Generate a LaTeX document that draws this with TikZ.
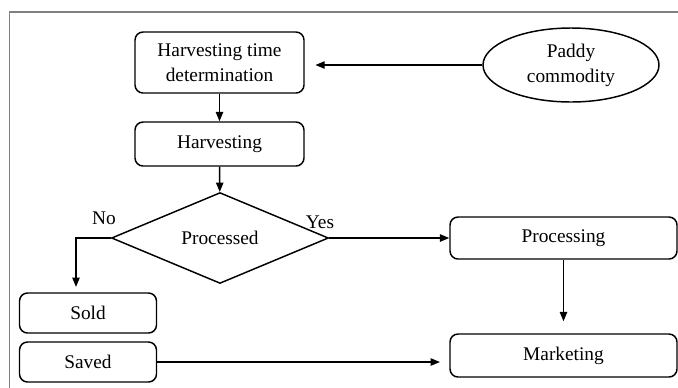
\documentclass[tikz,border=0pt]{standalone}
\usepackage{fontspec}
\setmainfont{Liberation Serif}
\usetikzlibrary{shapes.geometric,arrows.meta}

\begin{document}
\begin{tikzpicture}
	[x=0.75pt, y=-0.75pt,
	box/.style = {draw, rounded corners=6pt, line width=1.1pt,
	align=center, inner sep=0pt},
	source/.style = {draw, ellipse, line width=1.1pt, align=center,
	inner sep=0pt, minimum width=132pt, minimum height=55.5pt},
	decision/.style = {draw, diamond, line width=1.1pt, inner sep=0pt,
	minimum width=162.75pt, minimum height=61.5pt},
	arr/.style = {-{Triangle[length=7pt,width=5.5pt]}, line width=1.1pt},
	font=\fontsize{14.5}{18.75}\selectfont]
	\useasboundingbox (0,0) rectangle (678,387);
	% frame
	\draw[gray, line width=1.1pt] (9.5,395) -- (9.5,12) -- (690,12);
	% nodes
	\node[box, minimum width=126.75pt, minimum height=45.75pt] (timing) at (219.5,62.5) {Harvesting time\\determination};
	\node[source] (paddy) at (571,65) {Paddy\\commodity};
	\node[box, minimum width=126.75pt, minimum height=33pt] (harvest) at (219.5,144) {Harvesting};
	\node[decision] (decide) at (220,238) {Processed};
	\node[box, minimum width=170.25pt, minimum height=31.5pt] (process) at (563.5,238) {Processing};
	\node[box, minimum width=102.75pt, minimum height=30pt] (sold) at (88,313) {Sold};
	\node[box, minimum width=102.75pt, minimum height=30pt] (saved) at (88,362) {Saved};
	\node[box, minimum width=170.25pt, minimum height=32.25pt] (market) at (563.5,355.5) {Marketing};
	\node (no) at (104,218) {No};
	\node (yes) at (320,222) {Yes};
	% connectors
	\draw[arr, shorten >=8pt] (paddy.west) -- (paddy.west -| timing.east);
	\draw[arr] (timing) -- (harvest);
	\draw[arr] (harvest) -- (decide);
	\draw[arr, shorten >=4pt] (decide.west) -| ([xshift=-9pt]sold.north);
	\draw[arr] (decide.east) -- (process.west);
	\draw[arr, shorten >=9pt] (process) -- (market);
	\draw[arr, shorten >=7pt] (saved) -- (saved -| market.west);
\end{tikzpicture}
\end{document}
